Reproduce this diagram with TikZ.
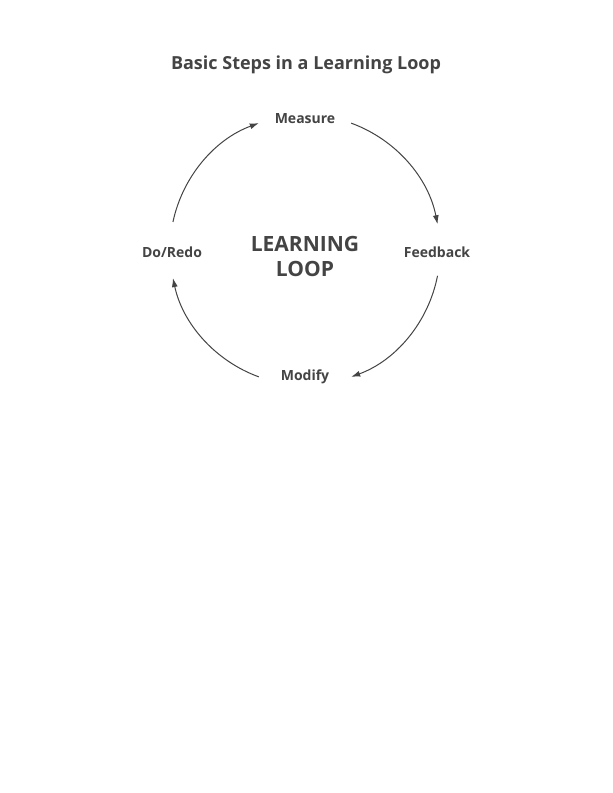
\documentclass[tikz,border=0pt]{standalone}
\usepackage{fontspec}
\usetikzlibrary{arrows.meta}
\setmainfont{Open Sans}
\definecolor{loopgray}{HTML}{444444}
\begin{document}
\begin{tikzpicture}[x=1pt,y=1pt,
  steplabel/.style={font=\bfseries\fontsize{14}{16}\selectfont,text=loopgray},
  looparc/.style={-{Latex[length=9pt,width=6pt]},loopgray,line width=1pt}]
\useasboundingbox[fill=white] (0,0) rectangle (613,-793);
\node[font=\bfseries\fontsize{18}{21}\selectfont,text=loopgray] (title) at (306,-65) {Basic Steps in a Learning Loop};
\coordinate (c) at (305,-250);
\node[font=\bfseries\fontsize{21}{25}\selectfont,text=loopgray,align=center] (loop) at (305,-256) {LEARNING\\LOOP};
\node[steplabel] (measure) at (305,-119) {Measure};
\node[steplabel] (feedback) at (437,-252) {Feedback};
\node[steplabel] (modify) at (305,-377) {Modify};
\node[steplabel] (doredo) at (172,-252) {Do/Redo};
\draw[looparc] (c) ++(168:135) arc (168:110:135);
\draw[looparc] (c) ++(70:135) arc (70:11:135);
\draw[looparc] (c) ++(-11:135) arc (-11:-70:135);
\draw[looparc] (c) ++(-110:135) arc (-110:-168:135);
\end{tikzpicture}
\end{document}
